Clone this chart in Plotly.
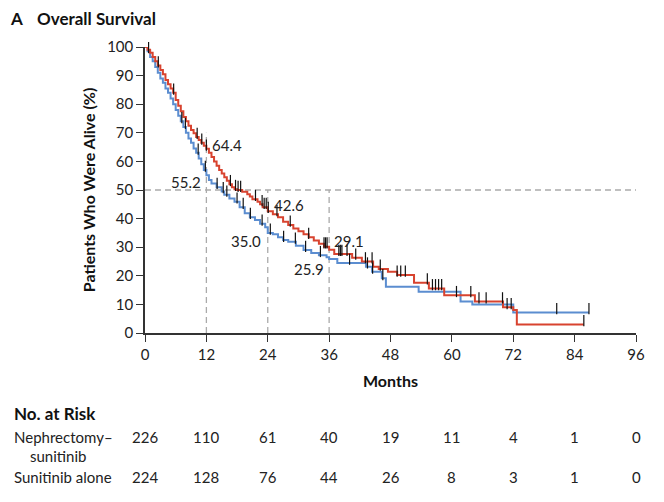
import plotly.graph_objects as go

# ---------------- data ----------------
months_ticks = [0, 12, 24, 36, 48, 60, 72, 84, 96]
pct_ticks = [0, 10, 20, 30, 40, 50, 60, 70, 80, 90, 100]

# Sunitinib alone (red) step curve
red_t = [0, 0.5, 1, 1.5, 2, 2.5, 3, 3.5, 4, 4.5, 5, 5.5, 6, 6.5, 7, 7.5, 8, 8.5, 9, 9.5,
         10, 10.5, 11, 11.5, 12, 12.5, 13, 13.5, 14, 14.5, 15, 15.5, 16, 16.5, 17, 17.5, 18,
         19, 20, 20.5, 21, 22, 22.5, 23, 24, 25, 26, 27, 28, 29, 30, 31, 32, 33, 34, 35, 36,
         37, 40.5, 42.4, 44.6, 45.7, 47.5, 49.3, 52.6, 55.5, 58.5, 64.5, 70, 72, 72.7, 85.8]
red_s = [100, 99, 98, 96.5, 95, 93.5, 92, 90.5, 88.5, 87, 85.5, 84, 81.5, 79.5, 77.5, 75.5, 74, 72.5, 71, 69.8,
         68.5, 67.5, 66.5, 65.5, 64.4, 63, 61.5, 60, 58.5, 57, 55.8, 54.5, 53.2, 52, 51, 50.3, 50,
         49.4, 48.5, 47.7, 46.8, 45.9, 45, 44, 42.6, 41.5, 40.5, 38.9, 37.8, 36.5, 35.6, 34.5, 33.5, 32.3, 31.2, 30.2, 29.1,
         27.6, 26.3, 25.0, 23.2, 22.4, 21.4, 20.3, 17.6, 15.6, 13.2, 11.0, 9.0, 8.0, 3.0, 3.0]

# Nephrectomy-sunitinib (blue) step curve
blue_t = [0, 0.5, 1, 1.5, 2, 2.5, 3, 3.5, 4, 4.5, 5, 5.5, 6, 6.5, 7, 7.5, 8, 8.5, 9, 9.5,
          10, 10.5, 11, 11.5, 12, 12.5, 13, 14, 15, 15.5, 16.5, 17.5, 18.5, 19.5, 20.5, 21.5, 22.5, 23.5,
          24, 25, 26, 27, 28, 29.5, 31, 32.5, 34, 35.5, 36, 37.6, 43.2, 44.4, 46.3, 47.1, 53.5,
          61.7, 64.0, 72, 86.8]
blue_s = [100, 98.5, 96.5, 95, 93, 91, 89, 87.5, 85.5, 84, 82, 80, 78, 76, 74, 72, 70, 68, 66.5, 64.5,
          63, 61, 59, 57, 55.2, 53.5, 52.3, 51, 49.5, 48.3, 47, 45.9, 44, 41.9, 40.5, 39.5, 38.2, 37,
          35.0, 34.5, 33.5, 32.5, 31.9, 30.5, 29.0, 28.0, 27.2, 26.5, 25.9, 24.5, 23.2, 21.4, 19.1, 16.2, 14.4,
          11.0, 10.0, 7.2, 7.2]

red_censor = [0.2, 0.4, 0.6, 0.9, 2.6, 5.6, 10.2, 11.1, 12.0, 16.7, 17.7, 18.2, 18.7, 21.6, 22.9, 23.3,
              23.7, 24.1, 25.8, 28.4, 32.0, 35.0, 35.3, 35.6, 37.9, 38.2, 38.5, 39.5, 41.2, 43.1, 44.4,
              46.0, 49.3, 50.0, 50.9, 55.2, 56.2, 56.8, 57.4, 58.0, 60.9, 63.7, 65.3, 66.7, 69.9, 70.8,
              71.6, 85.8]
blue_censor = [0.2, 0.4, 0.7, 7.2, 7.9, 10.4, 11.8, 14.1, 15.3, 16.0, 18.0, 19.2, 20.6, 22.9, 24.5,
               27.1, 29.4, 31.4, 34.3, 40.0, 43.5, 44.5, 46.5, 80.5, 86.8]

ref_months = [12, 24, 36]
ref_tops = [70, 50, 50]
red_labels = ["64.4", "42.6", "29.1"]
blue_labels = ["55.2", "35.0", "25.9"]
red_label_pos = [(12.8, 65.6), (24.9, 44.8), (36.6, 32.3)]
blue_label_pos = [(11.4, 52.9), (23.1, 32.3), (35.3, 22.5)]

risk_rows = ["Nephrectomy–", "Sunitinib alone"]
risk_neph = [226, 110, 61, 40, 19, 11, 4, 1, 0]
risk_sun = [224, 128, 76, 44, 26, 8, 3, 1, 0]

RED = "#d8432f"
BLUE = "#5b8dd0"
FONT = "Lato"


def surv_at(t, ts, ss):
    v = ss[0]
    for ti, si in zip(ts, ss):
        if ti <= t:
            v = si
    return v


fig = go.Figure()
# reference dashed lines
fig.add_trace(go.Scatter(x=[0, 96], y=[50, 50], mode="lines",
                         line=dict(color="#aaaaaa", width=1.3, dash="6px,4px"),
                         hoverinfo="skip", showlegend=False))
for m, top in zip(ref_months, ref_tops):
    fig.add_trace(go.Scatter(x=[m, m], y=[0, top], mode="lines",
                             line=dict(color="#aaaaaa", width=1.3, dash="6px,4px"),
                             hoverinfo="skip", showlegend=False))

fig.add_trace(go.Scatter(x=blue_t, y=blue_s, mode="lines", line_shape="hv",
                         line=dict(color=BLUE, width=2), name="Nephrectomy–sunitinib",
                         showlegend=False))
fig.add_trace(go.Scatter(x=red_t, y=red_s, mode="lines", line_shape="hv",
                         line=dict(color=RED, width=2), name="Sunitinib alone",
                         showlegend=False))

TICK_OFF = 1.3
fig.add_trace(go.Scatter(x=blue_censor,
                         y=[surv_at(t, blue_t, blue_s) + TICK_OFF for t in blue_censor],
                         mode="markers",
                         marker=dict(symbol="line-ns", size=8, line=dict(color="#111111", width=1.2)),
                         showlegend=False, hoverinfo="skip"))
fig.add_trace(go.Scatter(x=red_censor,
                         y=[surv_at(t, red_t, red_s) + TICK_OFF for t in red_censor],
                         mode="markers",
                         marker=dict(symbol="line-ns", size=8, line=dict(color="#111111", width=1.2)),
                         showlegend=False, hoverinfo="skip"))

ann = []
for txt, (x, y) in zip(red_labels, red_label_pos):
    ann.append(dict(x=x, y=y, xref="x", yref="y", text=txt, showarrow=False,
                    xanchor="left", yanchor="middle", font=dict(size=15, color="#222")))
for txt, (x, y) in zip(blue_labels, blue_label_pos):
    ann.append(dict(x=x, y=y, xref="x", yref="y", text=txt, showarrow=False,
                    xanchor="right", yanchor="middle", font=dict(size=15, color="#222")))

# title
ann.append(dict(x=0, y=1, xref="paper", yref="paper", xanchor="left", yanchor="middle",
                xshift=8 - 145, yshift=(47 - 18), text="<b>A</b>", showarrow=False,
                font=dict(size=17, color="#111")))
ann.append(dict(x=0, y=1, xref="paper", yref="paper", xanchor="left", yanchor="middle",
                xshift=35 - 145, yshift=(47 - 18), text="<b>Overall Survival</b>", showarrow=False,
                font=dict(size=17, color="#111")))

# at-risk table
ann.append(dict(x=0, y=0, xref="paper", yref="paper", xanchor="left", yanchor="middle",
                xshift=12 - 145, yshift=-(413 - 333), text="<b>No. at Risk</b>", showarrow=False,
                font=dict(size=17, color="#111")))
ann.append(dict(x=0, y=0, xref="paper", yref="paper", xanchor="left", yanchor="middle",
                xshift=12 - 145, yshift=-(437 - 333), text=risk_rows[0], showarrow=False,
                font=dict(size=15, color="#222")))
ann.append(dict(x=0, y=0, xref="paper", yref="paper", xanchor="left", yanchor="middle",
                xshift=28 - 145, yshift=-(456 - 333), text="sunitinib", showarrow=False,
                font=dict(size=15, color="#222")))
ann.append(dict(x=0, y=0, xref="paper", yref="paper", xanchor="left", yanchor="middle",
                xshift=12 - 145, yshift=-(477 - 333), text=risk_rows[1], showarrow=False,
                font=dict(size=15, color="#222")))
for m, a, b in zip(months_ticks, risk_neph, risk_sun):
    ann.append(dict(x=m, y=0, xref="x", yref="paper", xanchor="center", yanchor="middle",
                    yshift=-(437 - 333), text=str(a), showarrow=False,
                    font=dict(size=15, color="#222")))
    ann.append(dict(x=m, y=0, xref="x", yref="paper", xanchor="center", yanchor="middle",
                    yshift=-(477 - 333), text=str(b), showarrow=False,
                    font=dict(size=15, color="#222")))

fig.update_layout(
    width=664, height=502,
    margin=dict(l=145, r=28, t=47, b=169),
    paper_bgcolor="white", plot_bgcolor="white",
    font=dict(family=FONT, color="#222"),
    annotations=ann,
    xaxis=dict(range=[0, 96], tickvals=months_ticks, ticks="outside", ticklen=7, tickwidth=1.3,
               tickcolor="#333", showline=True, linecolor="#333", linewidth=1.5,
               showgrid=False, zeroline=False, tickfont=dict(size=15, color="#222"),
               title=dict(text="<b>Months</b>", font=dict(size=16, color="#111"), standoff=14)),
    yaxis=dict(range=[0, 100], tickvals=pct_ticks, ticks="outside", ticklen=7, tickwidth=1.3,
               tickcolor="#333", showline=True, linecolor="#333", linewidth=1.5,
               showgrid=False, zeroline=False, tickfont=dict(size=15, color="#222"),
               title=dict(text="<b>Patients Who Were Alive (%)</b>", font=dict(size=16, color="#111"),
                          standoff=8)),
)
fig.update_traces(cliponaxis=False)

fig.write_html("out.html")
